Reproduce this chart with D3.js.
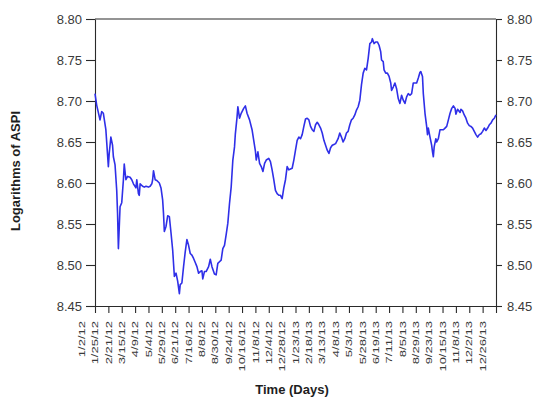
<!DOCTYPE html>
<html>
<head>
<meta charset="utf-8">
<script src="https://cdn.jsdelivr.net/npm/d3@7/dist/d3.min.js"></script>
<style>
  body { margin: 0; background: #fff; }
  svg { display: block; }
</style>
</head>
<body>
<svg id="chart" width="533" height="400"></svg>
<script>
// Trading-day number (0 = 2 Jan 2012) and log of the All Share Price Index
const tradingDay = [
  0, 2, 6, 8, 10, 13, 16, 17, 19, 21, 22, 24, 26, 27, 28, 30, 32, 34, 35, 37,
  39, 42, 44, 46, 49, 50, 52, 53, 54, 57, 59, 61, 64, 66, 68, 69, 70, 72, 74, 77,
  79, 81, 82, 83, 85, 87, 89, 91, 93, 95, 97, 99, 101, 102, 104, 106, 108, 110, 112, 114,
  116, 118, 120, 122, 124, 126, 128, 129, 131, 133, 136, 138, 140, 143, 145, 147, 149, 151, 153, 155,
  157, 159, 161, 163, 165, 167, 168, 170, 171, 173, 175, 178, 180, 182, 185, 188, 190, 192, 193, 195,
  197, 199, 201, 203, 205, 208, 210, 212, 214, 216, 218, 220, 222, 224, 226, 228, 230, 232, 234, 236,
  238, 240, 242, 244, 246, 248, 250, 252, 254, 256, 258, 260, 262, 264, 266, 268, 270, 272, 274, 276,
  278, 280, 282, 284, 286, 288, 291, 293, 295, 297, 299, 301, 303, 305, 307, 309, 311, 313, 315, 317,
  319, 321, 323, 325, 327, 329, 331, 332, 334, 336, 338, 340, 342, 343, 345, 346, 348, 350, 352, 354,
  355, 357, 359, 361, 363, 365, 367, 369, 371, 373, 375, 377, 379, 381, 383, 385, 387, 389, 390, 392,
  393, 395, 397, 398, 399, 401, 403, 404, 405, 406, 408, 409, 411, 413, 415, 417, 419, 421, 423, 425,
  427, 429, 431, 432, 434, 437, 438, 440, 442, 444, 446, 448, 450, 452, 454, 456, 458, 460, 462, 464,
  466, 468, 470, 472, 474, 476, 478, 480
];
const logAspi = [
  8.709, 8.695, 8.677, 8.687, 8.685, 8.665, 8.620, 8.636, 8.656, 8.646, 8.632, 8.622, 8.591, 8.563, 8.520, 8.571, 8.576, 8.604, 8.623, 8.604,
  8.608, 8.607, 8.604, 8.599, 8.594, 8.604, 8.587, 8.585, 8.599, 8.596, 8.595, 8.596, 8.595, 8.596, 8.599, 8.604, 8.615, 8.604, 8.603, 8.600,
  8.594, 8.579, 8.563, 8.541, 8.547, 8.560, 8.559, 8.539, 8.518, 8.486, 8.490, 8.480, 8.465, 8.476, 8.478, 8.498, 8.516, 8.531, 8.524, 8.514,
  8.512, 8.508, 8.503, 8.498, 8.490, 8.492, 8.493, 8.483, 8.492, 8.492, 8.498, 8.507, 8.498, 8.489, 8.488, 8.502, 8.504, 8.506, 8.520, 8.524,
  8.537, 8.551, 8.575, 8.595, 8.628, 8.644, 8.660, 8.680, 8.693, 8.679, 8.685, 8.691, 8.694, 8.685, 8.677, 8.665, 8.652, 8.639, 8.628, 8.638,
  8.624, 8.620, 8.614, 8.624, 8.628, 8.630, 8.626, 8.616, 8.604, 8.591, 8.587, 8.585, 8.585, 8.581, 8.594, 8.604, 8.620, 8.616, 8.617, 8.618,
  8.628, 8.640, 8.652, 8.656, 8.654, 8.659, 8.669, 8.678, 8.679, 8.677, 8.669, 8.665, 8.663, 8.671, 8.674, 8.671, 8.667, 8.661, 8.652, 8.646,
  8.640, 8.636, 8.643, 8.646, 8.647, 8.648, 8.654, 8.661, 8.656, 8.650, 8.654, 8.661, 8.663, 8.671, 8.677, 8.679, 8.683, 8.689, 8.693, 8.701,
  8.720, 8.734, 8.740, 8.738, 8.752, 8.770, 8.772, 8.776, 8.770, 8.772, 8.772, 8.768, 8.760, 8.750, 8.748, 8.738, 8.734, 8.734, 8.730, 8.722,
  8.713, 8.717, 8.722, 8.715, 8.703, 8.697, 8.707, 8.701, 8.697, 8.705, 8.709, 8.707, 8.709, 8.722, 8.722, 8.722, 8.728, 8.735, 8.736, 8.730,
  8.709, 8.685, 8.669, 8.659, 8.667, 8.656, 8.646, 8.638, 8.632, 8.644, 8.654, 8.650, 8.654, 8.665, 8.665, 8.665, 8.667, 8.669, 8.677, 8.685,
  8.691, 8.694, 8.691, 8.684, 8.690, 8.686, 8.690, 8.688, 8.683, 8.679, 8.673, 8.670, 8.669, 8.667, 8.663, 8.659, 8.656, 8.659, 8.660, 8.663,
  8.667, 8.664, 8.667, 8.671, 8.673, 8.677, 8.679, 8.683
];

// Date labels along the time axis (one per tick step)
const dateLabels = [
  "1/2/12", "1/25/12", "2/21/12", "3/15/12", "4/9/12", "5/4/12", "5/29/12", "6/21/12",
  "7/16/12", "8/8/12", "8/30/12", "9/24/12", "10/16/12", "11/8/12", "12/4/12", "12/28/12",
  "1/23/13", "2/18/13", "3/13/13", "4/8/13", "5/3/13", "5/28/13", "6/19/13", "7/11/13",
  "8/5/13", "8/29/13", "9/23/13", "10/15/13", "11/8/13", "12/2/13", "12/26/13"
];
const yTicks = [8.45, 8.50, 8.55, 8.60, 8.65, 8.70, 8.75, 8.80];
const lastDay = 480;
const tickStep = 16;

const svg = d3.select("#chart");
const plot = { left: 95, right: 496, top: 19, bottom: 306 };

const x = d3.scaleLinear().domain([0, lastDay]).range([plot.left, plot.right]);
const y = d3.scaleLinear().domain([8.45, 8.80]).range([plot.bottom, plot.top]);

const font = "'Liberation Sans', Arial, sans-serif";
const axisColor = "#2a2a2a";
const textColor = "#3a3a3a";

function styleAxis(g) {
  g.selectAll("path.domain").attr("stroke", axisColor).attr("stroke-width", 1.1);
  g.selectAll(".tick line").attr("stroke", axisColor).attr("stroke-width", 1.1);
  g.selectAll(".tick text")
    .attr("fill", textColor)
    .style("font-family", font)
    .style("font-size", "13px");
}

// Left value axis
svg.append("g")
  .attr("transform", `translate(${plot.left},0)`)
  .call(d3.axisLeft(y).tickValues(yTicks).tickFormat(d3.format(".2f"))
    .tickSize(9).tickSizeOuter(0).tickPadding(4))
  .call(styleAxis);

// Right value axis
svg.append("g")
  .attr("transform", `translate(${plot.right},0)`)
  .call(d3.axisRight(y).tickValues(yTicks).tickFormat(d3.format(".2f"))
    .tickSize(6).tickSizeOuter(0).tickPadding(5))
  .call(styleAxis);

// Bottom time axis: tick marks only, labels drawn below
const dayTicks = d3.range(0, lastDay + 1, tickStep);
svg.append("g")
  .attr("transform", `translate(0,${plot.bottom})`)
  .call(d3.axisBottom(x).tickValues(dayTicks).tickFormat("")
    .tickSize(7).tickSizeOuter(0))
  .call(styleAxis);

// Top border
svg.append("line")
  .attr("x1", plot.left).attr("x2", plot.right)
  .attr("y1", plot.top).attr("y2", plot.top)
  .attr("stroke", axisColor).attr("stroke-width", 1.1);

// Vertical date labels
const labelX = d3.scalePoint()
  .domain(dateLabels)
  .range([x(-tickStep), x(lastDay - tickStep)]);

svg.append("g")
  .selectAll("text")
  .data(dateLabels)
  .join("text")
  .attr("transform", d => `translate(${labelX(d)},321) rotate(-90) scale(1,0.68)`)
  .attr("text-anchor", "end")
  .attr("dy", "0.36em")
  .attr("fill", textColor)
  .style("font-family", font)
  .style("font-size", "13px")
  .text(d => d);

// Index line
const series = tradingDay.map((d, i) => ({ day: d, v: logAspi[i] }));
svg.append("path")
  .datum(series)
  .attr("fill", "none")
  .attr("stroke", "#2f2fe8")
  .attr("stroke-width", 1.6)
  .attr("stroke-linejoin", "round")
  .attr("d", d3.line().x(d => x(d.day)).y(d => y(d.v)));

// Axis titles
svg.append("text")
  .attr("transform", "translate(15,171) rotate(-90)")
  .attr("text-anchor", "middle")
  .attr("dy", "0.35em")
  .attr("fill", "#1e1e1e")
  .style("font-family", font)
  .style("font-size", "13px")
  .style("font-weight", "bold")
  .text("Logarithms of ASPI");

svg.append("text")
  .attr("x", 292).attr("y", 394)
  .attr("text-anchor", "middle")
  .attr("fill", "#1e1e1e")
  .style("font-family", font)
  .style("font-size", "13px")
  .style("font-weight", "bold")
  .text("Time (Days)");
</script>
</body>
</html>
